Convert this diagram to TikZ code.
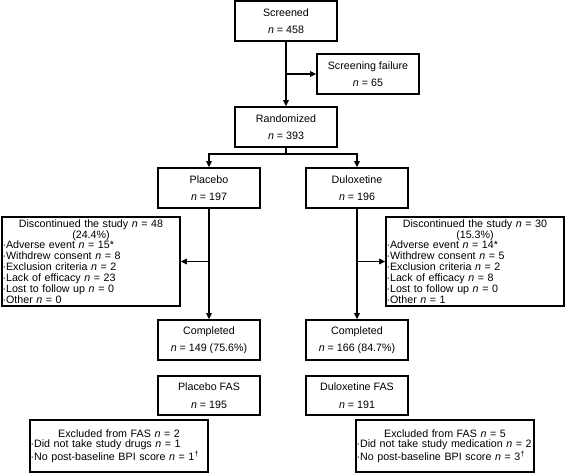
\documentclass[tikz,border=0pt]{standalone}
\usepackage{fontspec}
\setmainfont{Liberation Sans}
\usetikzlibrary{arrows.meta}
\begin{document}
\begin{tikzpicture}[x=1pt,y=-1pt,
  box/.style={draw, line width=1.7pt, inner sep=0pt, align=center,
    minimum width=102pt, minimum height=40pt,
    font=\fontsize{10.7}{17.5}\selectfont},
  listbox/.style={draw, line width=1.7pt, inner sep=0.5pt, align=left,
    minimum width=178pt, text width=177pt,
    font=\fontsize{10.7}{10.9}\selectfont},
  conn/.style={line width=1.7pt},
  arr/.style={conn, -{Triangle[length=6pt,width=5.5pt]}}]
\useasboundingbox (0,0) rectangle (567,474);

\node[box] (screened) at (286,21) {Screened\\\textit{n} = 458};
\node[box] (sf) at (368,74) {Screening failure\\\textit{n} = 65};
\node[box] (rand) at (286,127) {Randomized\\\textit{n} = 393};
\node[box] (plac) at (209,188) {Placebo\\\textit{n} = 197};
\node[box] (dulo) at (357,188) {Duloxetine\\\textit{n} = 196};

\node[listbox, minimum height=89pt] (discL) at (91,261.5) {%
{\centering Discontinued the study \textit{n} = 48\\(24.4\%)\par}
·Adverse event \textit{n} = 15*\\
·Withdrew consent \textit{n} = 8\\
·Exclusion criteria \textit{n} = 2\\
·Lack of efficacy \textit{n} = 23\\
·Lost to follow up \textit{n} = 0\\
·Other \textit{n} = 0};

\node[listbox, minimum height=89pt] (discR) at (475,261.5) {%
{\centering Discontinued the study \textit{n} = 30\\(15.3\%)\par}
·Adverse event \textit{n} = 14*\\
·Withdrew consent \textit{n} = 5\\
·Exclusion criteria \textit{n} = 2\\
·Lack of efficacy \textit{n} = 8\\
·Lost to follow up \textit{n} = 0\\
·Other \textit{n} = 1};

\node[box] (compP) at (209,340) {Completed\\\textit{n} = 149 (75.6\%)};
\node[box] (compD) at (357,340) {Completed\\\textit{n} = 166 (84.7\%)};
\node[box, minimum height=39pt] (fasP) at (209,395.5) {Placebo FAS\\\textit{n} = 195};
\node[box, minimum height=39pt] (fasD) at (357,395.5) {Duloxetine FAS\\\textit{n} = 191};

\node[listbox, minimum height=52pt] (exclP) at (119,446) {%
{\centering Excluded from FAS \textit{n} = 2\par}
·Did not take study drugs \textit{n} = 1\\
·No post-baseline BPI score \textit{n} = 1\textsuperscript{†}};
\node[listbox, minimum height=52pt] (exclD) at (445,446) {%
{\centering Excluded from FAS \textit{n} = 5\par}
·Did not take study medication \textit{n} = 2\\
·No post-baseline BPI score \textit{n} = 3\textsuperscript{†}};

\draw[arr] (screened.south) -- (rand.north);
\draw[arr] (screened.south |- sf.west) -- (sf.west);
\coordinate (split) at (286,154);
\draw[conn] (rand.south) -- (split);
\draw[arr] (split) -| (plac.north);
\draw[arr] (split) -| (dulo.north);
\draw[arr] (plac.south) -- (compP.north);
\draw[arr] (plac.south |- discL.east) -- (discL.east);
\draw[arr] (dulo.south) -- (compD.north);
\draw[arr] (dulo.south |- discR.west) -- (discR.west);
\end{tikzpicture}
\end{document}
